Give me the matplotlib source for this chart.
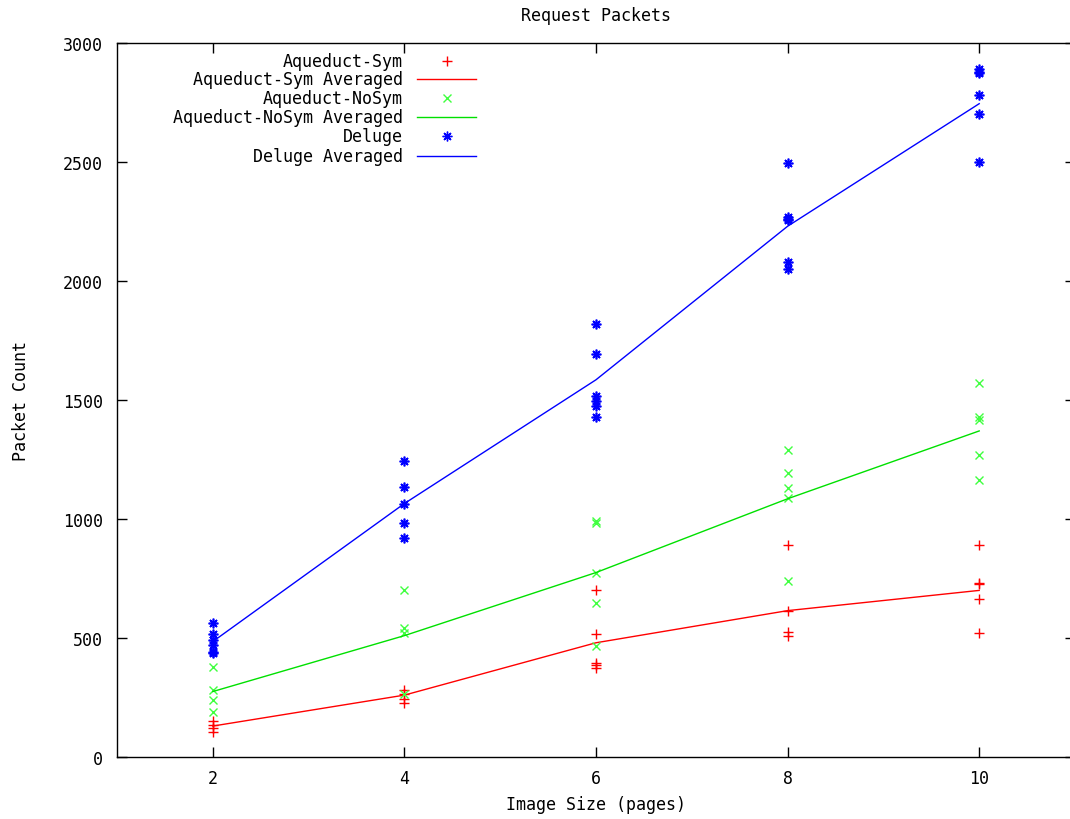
import matplotlib
matplotlib.use("Agg")
import matplotlib.pyplot as plt
from matplotlib.lines import Line2D

# ---- data ----
sizes = [2, 4, 6, 8, 10]

sym_x = [2, 2, 2, 2, 4, 4, 4, 4, 6, 6, 6, 6, 6, 8, 8, 8, 8, 10, 10, 10, 10, 10]
sym_y = [150, 135, 120, 105, 280, 265, 245, 225, 700, 515, 395, 385, 375,
         890, 615, 525, 510, 890, 730, 725, 665, 520]
sym_avg = [130, 260, 480, 615, 700]

nosym_x = [2, 2, 2, 2, 4, 4, 4, 4, 6, 6, 6, 6, 6, 8, 8, 8, 8, 8, 10, 10, 10, 10, 10]
nosym_y = [378, 280, 240, 190, 700, 540, 520, 265, 990, 985, 775, 645, 465,
           1290, 1195, 1130, 1090, 740, 1570, 1430, 1415, 1270, 1165]
nosym_avg = [275, 510, 775, 1085, 1370]

deluge_x = [2, 2, 2, 2, 2, 2, 4, 4, 4, 4, 4, 6, 6, 6, 6, 6, 6,
            8, 8, 8, 8, 8, 8, 10, 10, 10, 10, 10, 10]
deluge_y = [565, 515, 490, 470, 440, 435, 1245, 1135, 1065, 985, 920,
            1820, 1695, 1515, 1495, 1475, 1430,
            2495, 2270, 2262, 2255, 2080, 2050,
            2890, 2880, 2875, 2780, 2700, 2500]
deluge_avg = [485, 1065, 1585, 2230, 2745]

labels = ["Aqueduct-Sym", "Aqueduct-Sym Averaged", "Aqueduct-NoSym",
          "Aqueduct-NoSym Averaged", "Deluge", "Deluge Averaged"]

RED = "#ff0000"
GREEN = "#00e000"
GREEN_M = "#40ff40"
BLUE = "#0000ff"
AST = (8, 2, 0)

plt.rcParams['font.family'] = ['DejaVu Sans Mono']
FS = 12

W, H = 1070, 820
fig = plt.figure(figsize=(W / 100, H / 100), dpi=100)
left, right, top, bottom = 117, 1075, 44, 758
ax = fig.add_axes([left / W, (H - bottom) / H, (right - left) / W, (bottom - top) / H])

ax.plot(sym_x, sym_y, linestyle="none", marker="+", color=RED, ms=7, mew=1)
ax.plot(sizes, sym_avg, color=RED, lw=1)
ax.plot(nosym_x, nosym_y, linestyle="none", marker="x", color=GREEN_M, ms=6, mew=1)
ax.plot(sizes, nosym_avg, color=GREEN, lw=1)
ax.plot(deluge_x, deluge_y, linestyle="none", marker=AST, color=BLUE, ms=7, mew=1.2)
ax.plot(sizes, deluge_avg, color=BLUE, lw=1)

ax.set_xlim(1, 11)
ax.set_ylim(0, 3000)
ax.set_xticks(sizes)
ax.set_yticks([0, 500, 1000, 1500, 2000, 2500, 3000])
ax.tick_params(direction="in", length=7, width=1, top=True, right=True,
               labelsize=FS)
ax.tick_params(axis="x", pad=8.6)
ax.tick_params(axis="y", pad=10)
for s in ax.spines.values():
    s.set_linewidth(1)

ax.set_xlabel("Image Size (pages)", fontsize=FS, labelpad=5.5)
ax.set_ylabel("Packet Count", fontsize=FS, labelpad=24)
ax.set_title("Request Packets", fontsize=FS, pad=16.5)

# manual gnuplot-style key (text right-aligned, sample to the right)
text_x = (403 - left) / (right - left)
s0 = (417 - left) / (right - left)
s1 = (476 - left) / (right - left)
sm = (447 - left) / (right - left)
rows = [62, 80, 99, 118, 137, 157]
styles = [("m", RED, "+"), ("l", RED, None), ("m", GREEN_M, "x"),
          ("l", GREEN, None), ("m", BLUE, AST), ("l", BLUE, None)]
for lab, ry, (kind, col, mk) in zip(labels, rows, styles):
    yy = (bottom - ry) / (bottom - top)
    ax.text(text_x, yy, lab, transform=ax.transAxes, ha="right", va="center",
            fontsize=FS)
    if kind == "l":
        ax.add_line(Line2D([s0, s1], [yy, yy], transform=ax.transAxes,
                           color=col, lw=1))
    else:
        ax.add_line(Line2D([sm], [yy], transform=ax.transAxes, color=col,
                           marker=mk, ms=7 if mk != "x" else 6, mew=1,
                           linestyle="none"))

fig.savefig("out.png", dpi=100)
